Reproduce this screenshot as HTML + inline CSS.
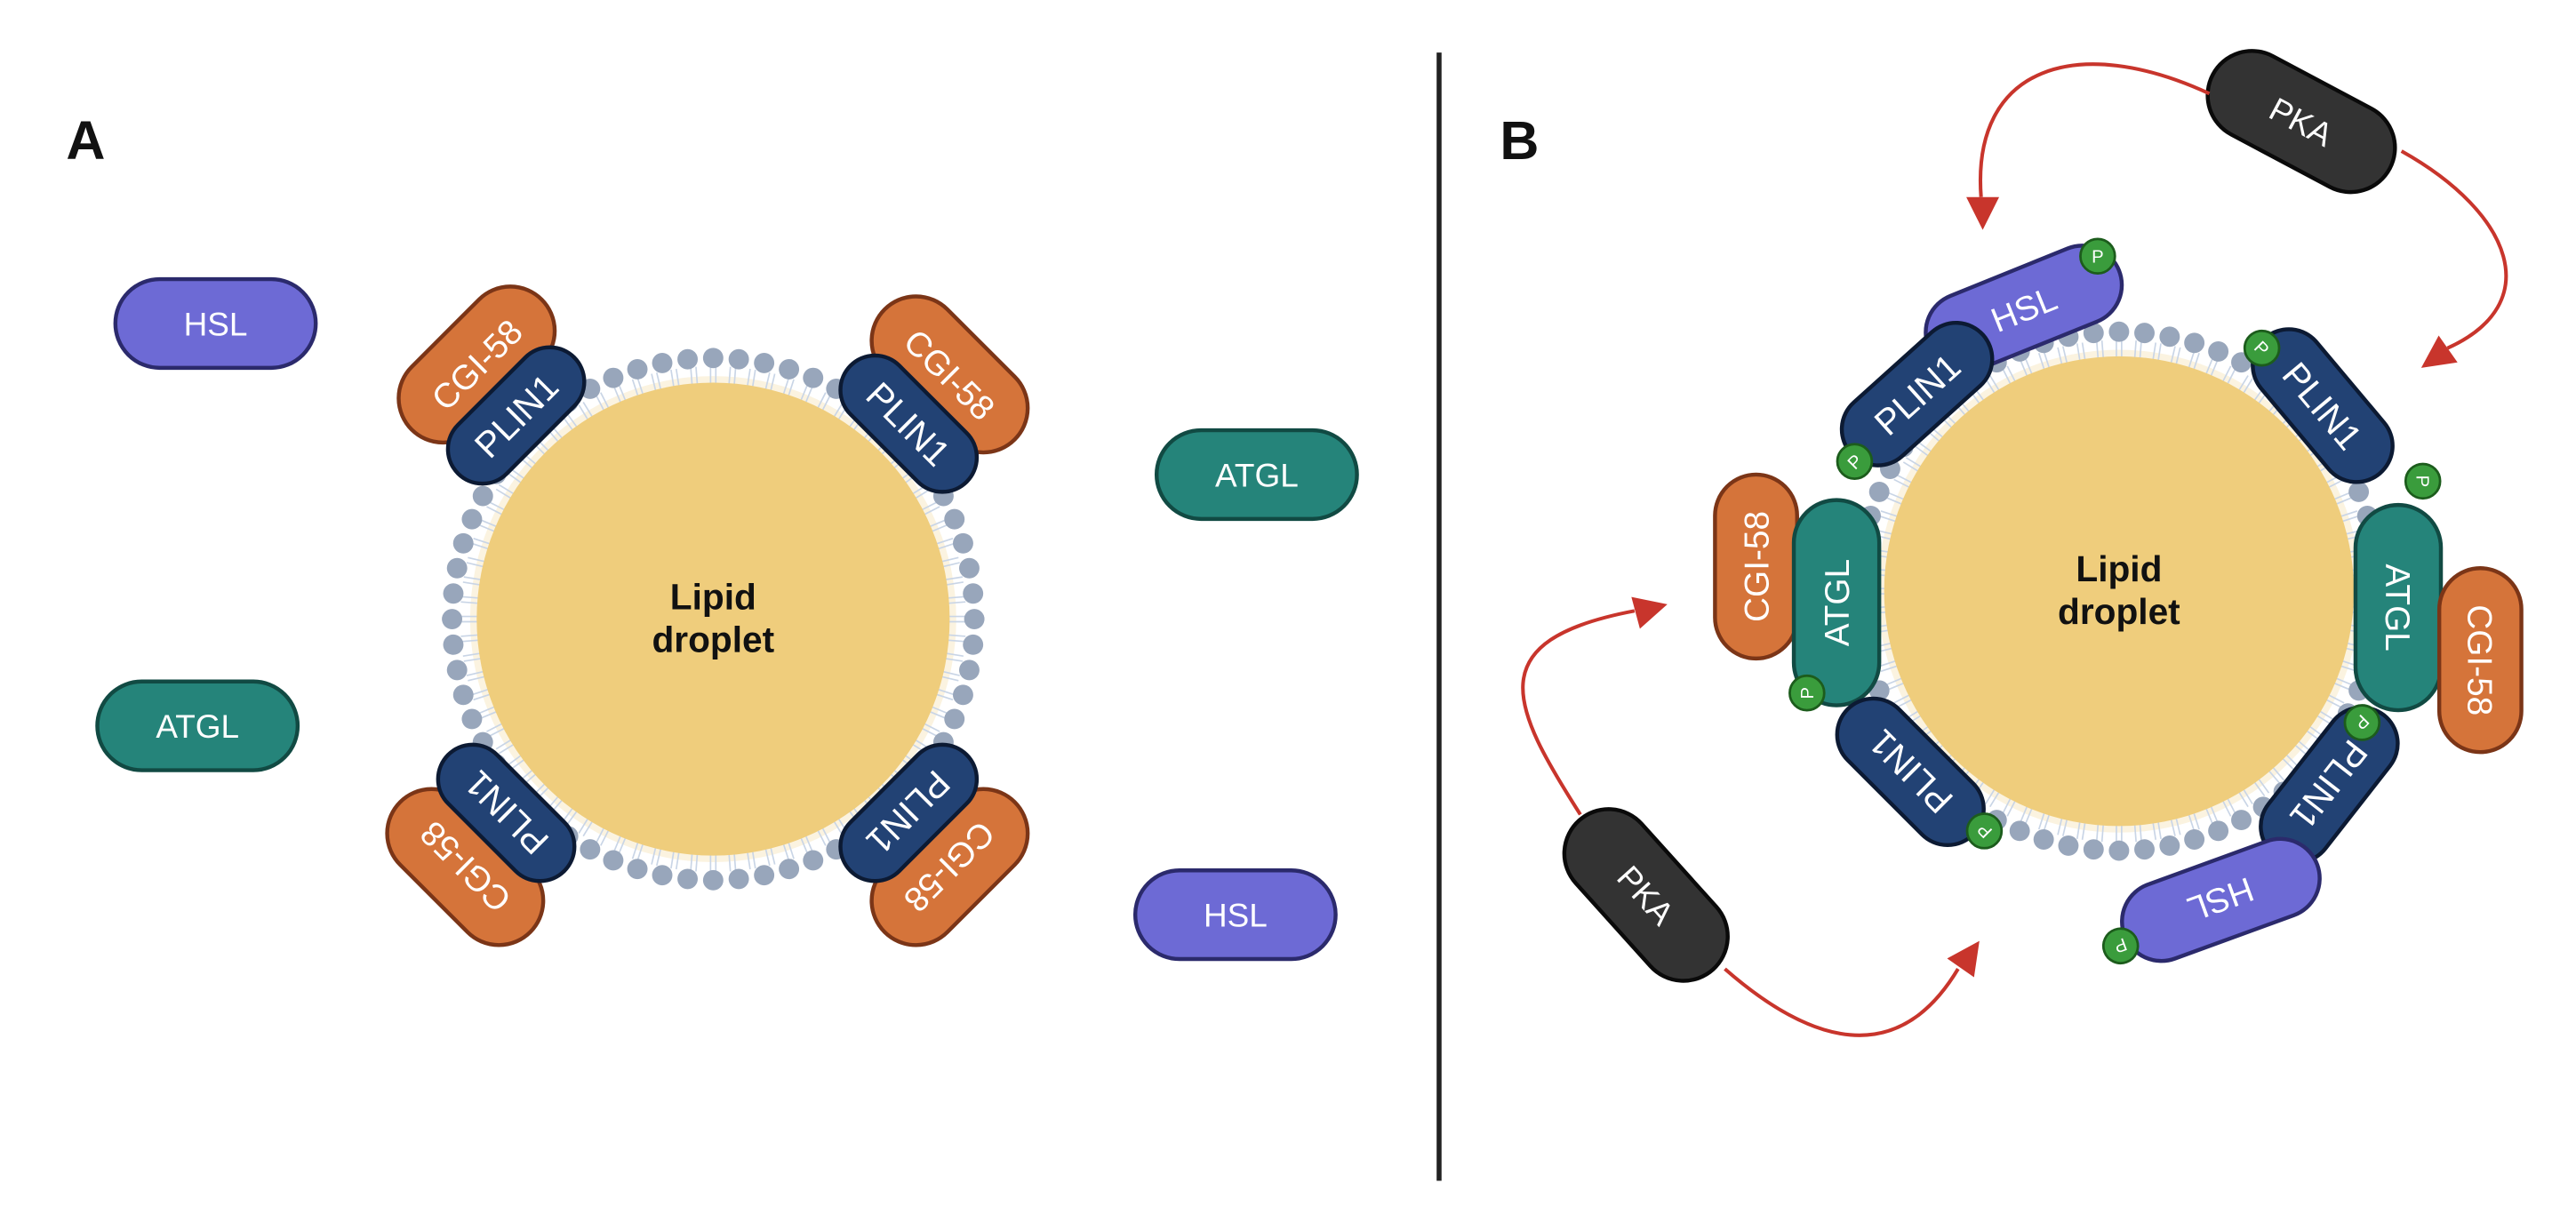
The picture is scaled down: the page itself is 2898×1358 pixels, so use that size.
<!DOCTYPE html>
<html><head><meta charset="utf-8"><style>
html,body{margin:0;padding:0;background:#fff;}
svg{display:block;}
text{font-family:"Liberation Sans",sans-serif;}
</style></head><body>
<svg id="s" width="2898" height="1358" viewBox="0 0 1568 735" xmlns="http://www.w3.org/2000/svg">
<rect width="1568" height="735" fill="#fff"/>
<text x="40" y="97" font-size="33" font-weight="bold" fill="#111">A</text>
<text x="913" y="97" font-size="33" font-weight="bold" fill="#111">B</text>
<line x1="876" y1="32" x2="876" y2="719" stroke="#222" stroke-width="3"/>
<g id="g"></g>
</svg>
<script>
const NS="http://www.w3.org/2000/svg";
const g=document.getElementById('g');
function el(t,a,p){const e=document.createElementNS(NS,t);for(const k in a)e.setAttribute(k,a[k]);(p||g).appendChild(e);return e;}
function droplet(cx,cy,r){
  el('circle',{cx,cy,r:r+4,fill:'#fbf3e0'});
  const n=80;
  for(let i=0;i<n;i++){const a=i/n*2*Math.PI,c=Math.cos(a),s=Math.sin(a);
    for(const d of [-1.6,1.6]){const px=-s*d,py=c*d;
      el('line',{x1:cx+c*(r-2)+px,y1:cy+s*(r-2)+py,x2:cx+c*(r+10)+px,y2:cy+s*(r+10)+py,stroke:'#c9d5e6','stroke-width':0.9});}
  }
  el('circle',{cx,cy,r,fill:'#efcd7c'});
  const m=64;
  for(let i=0;i<m;i++){const a=i/m*2*Math.PI;
    el('circle',{cx:cx+Math.cos(a)*(r+15),cy:cy+Math.sin(a)*(r+15),r:6.2,fill:'#98a6bb'});}
  const t=el('text',{x:cx,y:cy-6,'text-anchor':'middle','font-size':22,'font-weight':'bold',fill:'#111'});t.textContent='Lipid';
  const t2=el('text',{x:cx,y:cy+20,'text-anchor':'middle','font-size':22,'font-weight':'bold',fill:'#111'});t2.textContent='droplet';
}
const C={
 CGI:['#d5743a','#7b3517'],PLIN:['#224274','#0c1a33'],HSL:['#6d6ad5','#2b2a6c'],ATGL:['#25847a','#114a43'],PKA:['#333333','#0a0a0a']};
function cap(cx,cy,w,h,rot,col,label,fs){
  const gg=el('g',{transform:`translate(${cx},${cy}) rotate(${rot})`});
  el('rect',{x:-w/2,y:-h/2,width:w,height:h,rx:h/2,fill:col[0],stroke:col[1],'stroke-width':2.4},gg);
  const t=el('text',{x:0,y:fs*0.36,'text-anchor':'middle','font-size':fs,fill:'#fff'},gg);t.textContent=label;
}
function P(cx,cy,rot){
  const gg=el('g',{transform:`translate(${cx},${cy}) rotate(${rot||0})`});
  el('circle',{cx:0,cy:0,r:10.5,fill:'#3a9c3c',stroke:'#1c5c1c','stroke-width':1.5},gg);
  const t=el('text',{x:0,y:4,'text-anchor':'middle','font-size':11,fill:'#fff'},gg);t.textContent='P';
}
// Panel A
droplet(434,377,144);
cap(290,222,112,54,-45,C.CGI,'CGI-58',21);
cap(314,253,100,42,-45,C.PLIN,'PLIN1',22);
cap(578,228,112,54,45,C.CGI,'CGI-58',21);
cap(553,258,100,42,45,C.PLIN,'PLIN1',22);
cap(283,528,112,54,225,C.CGI,'CGI-58',21);
cap(308,495,100,42,225,C.PLIN,'PLIN1',22);
cap(578,528,112,54,135,C.CGI,'CGI-58',21);
cap(553,495,100,42,135,C.PLIN,'PLIN1',22);
cap(131,197,122,54,0,C.HSL,'HSL',20);
cap(120,442,122,54,0,C.ATGL,'ATGL',20);
cap(765,289,122,54,0,C.ATGL,'ATGL',20);
cap(752,557,122,54,0,C.HSL,'HSL',20);
// Panel B
droplet(1290,360,143);
cap(1232,188,125,48,-22,C.HSL,'HSL',21);
cap(1167,240,108,44,-42,C.PLIN,'PLIN1',22);
cap(1414,247,108,44,50,C.PLIN,'PLIN1',22);
cap(1069,345,112,50,-90,C.CGI,'CGI-58',21);
cap(1118,367,125,52,-90,C.ATGL,'ATGL',21);
cap(1460,370,125,52,90,C.ATGL,'ATGL',21);
cap(1510,402,112,50,90,C.CGI,'CGI-58',21);
cap(1163,470,108,44,225,C.PLIN,'PLIN1',22);
cap(1418,478,108,44,128,C.PLIN,'PLIN1',22);
cap(1352,548,125,48,160,C.HSL,'HSL',21);
cap(1401,74,122,54,28,C.PKA,'PKA',20);
cap(1002,545,122,54,48,C.PKA,'PKA',20);
P(1277,156);P(1129,281,-45);P(1377,212,45);P(1475,293,90);P(1100,422,-90);
P(1208,506,225);P(1438,440,135);P(1291,576,160);
// arrows
const red='#c8352c';
function arrow(d,tx,ty,ang){
  el('path',{d,fill:'none',stroke:red,'stroke-width':2.2});
  const gg=el('g',{transform:`translate(${tx},${ty}) rotate(${ang})`});
  el('polygon',{points:'0,0 -20,-10 -20,10',fill:red},gg);
}
arrow('M1345,57 C1265,20 1200,40 1206,120',1207,140,90);
arrow('M1462,92 C1530,130 1550,185 1490,212',1474,224,145);
arrow('M962,496 C920,430 900,390 995,372',1015,368,-15);
arrow('M1050,590 C1090,625 1150,660 1192,590',1205,573,-55);
</script>
</body></html>
